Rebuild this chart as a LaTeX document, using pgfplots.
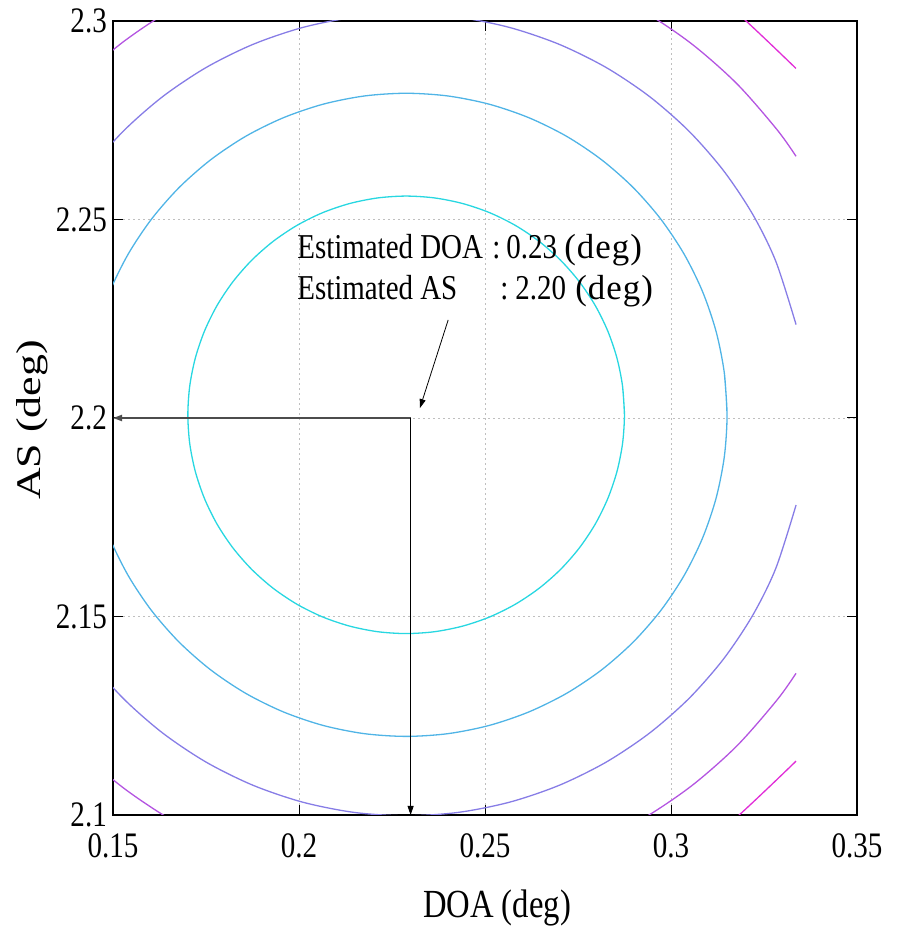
\documentclass[border=0pt]{standalone}
\usepackage{pgfplots}
\pgfplotsset{compat=1.18}
\usepackage{fontspec}
\setmainfont{Liberation Serif}
\newfontfamily\tickfont{Liberation Serif}[FakeStretch=0.81]
\newfontfamily\notefont{Liberation Serif}[FakeStretch=0.83]
\newfontfamily\degfont{Liberation Serif}
\newfontfamily\xlabfont{Liberation Serif}[FakeStretch=0.82]
\newfontfamily\ylabfont{Liberation Serif}[FakeStretch=1.27]
\usetikzlibrary{arrows.meta}
\definecolor{cA}{RGB}{40,215,225}
\definecolor{cB}{RGB}{80,180,230}
\definecolor{cC}{RGB}{135,125,230}
\definecolor{cD}{RGB}{180,85,225}
\definecolor{cE}{RGB}{225,45,215}
\newcommand{\degtxt}{{\degfont(\kern1bp d\kern1bp e\kern1bp g\kern1bp)}}
\begin{document}
\begin{tikzpicture}
\begin{axis}[
  scale only axis,
  width=744bp, height=794bp,
  xmin=0.15, xmax=0.35, ymin=2.1, ymax=2.3,
  xtick={0.15,0.2,0.25,0.3,0.35},
  xticklabels={0.15,0.2,0.25,0.3,0.35},
  ytick={2.1,2.15,2.2,2.25,2.3},
  yticklabels={2.1,2.15,2.2,2.25,2.3},
  /pgf/number format/assume math mode=true,
  tick label style={font=\tickfont\fontsize{36}{40}\selectfont},
  xticklabel style={inner sep=0pt, yshift=-18bp},
  yticklabel style={inner sep=0pt, xshift=-6bp},
  grid=major,
  major grid style={gray!50, dash pattern=on 1.5bp off 3.5bp, line width=0.6bp},
  tick align=inside,
  major tick length=10bp,
  tick style={black, line width=1bp},
  axis line style={black, line width=1.2bp},
  every axis plot/.append style={line width=1.3bp, smooth},
]
% innermost contour
\addplot[cA] coordinates {
(0.28748,2.2008) (0.28698,2.20799) (0.28548,2.21506) (0.28301,2.22189) (0.27962,2.22835) (0.27535,2.23434) (0.27029,2.23976) (0.26452,2.24451) (0.25814,2.24852) (0.25126,2.25171) (0.24399,2.25402) (0.23646,2.25543) (0.2288,2.2559)
(0.22114,2.25543) (0.21361,2.25402) (0.20634,2.25171) (0.19946,2.24852) (0.19308,2.24451) (0.18731,2.23976) (0.18225,2.23434) (0.17798,2.22835) (0.17459,2.22189) (0.17212,2.21506) (0.17062,2.20799) (0.17012,2.2008)
(0.17062,2.19361) (0.17212,2.18654) (0.17459,2.17971) (0.17798,2.17325) (0.18225,2.16726) (0.18731,2.16184) (0.19308,2.15709) (0.19946,2.15308) (0.20634,2.14989) (0.21361,2.14758) (0.22114,2.14617) (0.2288,2.1457)
(0.23646,2.14617) (0.24399,2.14758) (0.25126,2.14989) (0.25814,2.15308) (0.26452,2.15709) (0.27029,2.16184) (0.27535,2.16726) (0.27962,2.17325) (0.28301,2.17971) (0.28548,2.18654) (0.28698,2.19361) (0.28748,2.2008)
(0.28698,2.20799)
};
% second contour
\addplot[cB] coordinates {
(0.31507,2.2008) (0.31433,2.21137) (0.31213,2.22176) (0.3085,2.2318) (0.30351,2.2413) (0.29724,2.25011) (0.2898,2.25808) (0.28132,2.26506) (0.27194,2.27095) (0.26181,2.27563) (0.25113,2.27904) (0.24006,2.28111) (0.2288,2.2818)
(0.21754,2.28111) (0.20647,2.27904) (0.19579,2.27563) (0.18566,2.27095) (0.17628,2.26506) (0.1678,2.25808) (0.16036,2.25011) (0.15409,2.2413) (0.1491,2.2318) (0.14547,2.22176) (0.14327,2.21137) (0.14253,2.2008)
(0.14327,2.19023) (0.14547,2.17984) (0.1491,2.1698) (0.15409,2.1603) (0.16036,2.15149) (0.1678,2.14352) (0.17628,2.13654) (0.18566,2.13065) (0.19579,2.12597) (0.20647,2.12256) (0.21754,2.12049) (0.2288,2.1198)
(0.24006,2.12049) (0.25113,2.12256) (0.26181,2.12597) (0.27194,2.13065) (0.28132,2.13654) (0.2898,2.14352) (0.29724,2.15149) (0.30351,2.1603) (0.3085,2.1698) (0.31213,2.17984) (0.31433,2.19023) (0.31507,2.2008)
(0.31433,2.21137)
};
% third contour
\addplot[cC] coordinates {
(0.33362,2.22352) (0.32818,2.23945) (0.32196,2.2513) (0.31414,2.26228) (0.30486,2.27222) (0.29428,2.28093) (0.28259,2.28827) (0.26997,2.29411) (0.25664,2.29836) (0.24284,2.30094) (0.2288,2.3018)
(0.21476,2.30094) (0.20096,2.29836) (0.18763,2.29411) (0.17501,2.28827) (0.16332,2.28093) (0.15274,2.27222) (0.14346,2.26228) (0.13564,2.2513) (0.12942,2.23945) (0.1249,2.22694) (0.12215,2.21398) (0.12123,2.2008)
(0.12215,2.18762) (0.1249,2.17466) (0.12942,2.16215) (0.13564,2.1503) (0.14346,2.13932) (0.15274,2.12938) (0.16332,2.12067) (0.17501,2.11333) (0.18763,2.10749) (0.20096,2.10324) (0.21476,2.10066) (0.2288,2.0998)
(0.24284,2.10066) (0.25664,2.10324) (0.26997,2.10749) (0.28259,2.11333) (0.29428,2.12067) (0.30486,2.12938) (0.31414,2.13932) (0.32196,2.1503) (0.32818,2.16215) (0.33362,2.17808)
};
% fourth contour
\addplot[cD] coordinates {
(0.3336,2.26592) (0.3285,2.27263) (0.31766,2.28424) (0.3053,2.29442) (0.29164,2.30299) (0.27689,2.30982) (0.26133,2.31478) (0.2452,2.31779) (0.2288,2.3188)
(0.2124,2.31779) (0.19627,2.31478) (0.18071,2.30982) (0.16596,2.30299) (0.1523,2.29442) (0.13994,2.28424) (0.1291,2.27263) (0.11997,2.2598) (0.1127,2.24596) (0.10741,2.23134) (0.10421,2.2162) (0.10313,2.2008)
(0.10421,2.1854) (0.10741,2.17026) (0.1127,2.15564) (0.11997,2.1418) (0.1291,2.12897) (0.13994,2.11736) (0.1523,2.10718) (0.16596,2.09861) (0.18071,2.09178) (0.19627,2.08682) (0.2124,2.08381) (0.2288,2.0828)
(0.2452,2.08381) (0.26133,2.08682) (0.27689,2.09178) (0.29164,2.09861) (0.3053,2.10718) (0.31766,2.11736) (0.3285,2.12897) (0.3336,2.13568)
};
% fifth contour
\addplot[cE] coordinates {
(0.3336,2.28804) (0.31406,2.30513) (0.29883,2.31468) (0.28239,2.32229) (0.26505,2.32782) (0.24708,2.33117) (0.2288,2.3323)
(0.21052,2.33117) (0.19255,2.32782) (0.17521,2.32229) (0.15877,2.31468) (0.14354,2.30513) (0.12977,2.29378) (0.11769,2.28085) (0.10751,2.26655) (0.09352,2.23484) (0.08875,2.2008)
(0.09352,2.16676) (0.10751,2.13505) (0.11769,2.12075) (0.12977,2.10782) (0.14354,2.09647) (0.15877,2.08692) (0.17521,2.07931) (0.2288,2.0693)
(0.28239,2.07931) (0.29883,2.08692) (0.31406,2.09647) (0.3336,2.11356)
};
% annotation
\draw[-{Triangle[length=9bp,width=6bp]}, line width=1.9bp, black!70] (axis cs:0.23,2.2) -- (axis cs:0.15,2.2);
\draw[-{Triangle[length=9bp,width=6bp]}, line width=0.8bp, black] (axis cs:0.23,2.2) -- (axis cs:0.23,2.1);
\draw[-{Triangle[length=9bp,width=6bp]}, line width=0.8bp, black] (axis cs:0.2401,2.2247) -- (axis cs:0.2325,2.2025);
\node[anchor=base west, inner sep=0pt, font=\notefont\fontsize{35}{40}\selectfont] at (axis cs:0.1995,2.24005)
  {\makebox[195bp][l]{Estimated DOA}\makebox[14bp][l]{:}\makebox[58bp][l]{0.23}\degtxt};
\node[anchor=base west, inner sep=0pt, font=\notefont\fontsize{35}{40}\selectfont] at (axis cs:0.1995,2.22997)
  {\makebox[203bp][l]{Estimated AS}\makebox[15bp][l]{:}\makebox[60bp][l]{2.20}\degtxt};
\end{axis}
\node[anchor=base, inner sep=0pt, font=\xlabfont\fontsize{40}{44}\selectfont] at (384bp,-102bp) {DOA (deg)};
\node[rotate=90, anchor=center, inner sep=0pt, font=\ylabfont\fontsize{34.7}{40}\selectfont] at (-81bp,395bp) {AS (deg)};
\pgfresetboundingbox
\path[use as bounding box] (-113bp,-111bp) rectangle (785bp,815bp);
\end{tikzpicture}
\end{document}
